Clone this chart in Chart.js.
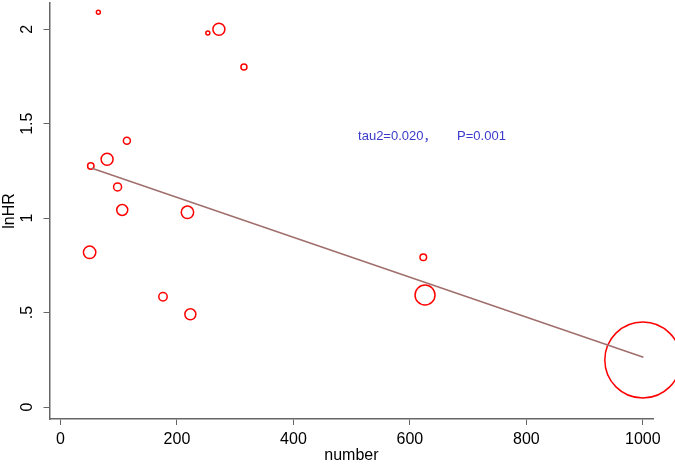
<!DOCTYPE html>
<html>
<head>
<meta charset="utf-8">
<script src="https://cdn.jsdelivr.net/npm/chart.js@4.4.1/dist/chart.umd.min.js"></script>
<style>
  body { margin: 0; background: #fff; }
  #wrap { width: 675px; height: 464px; }
</style>
</head>
<body>
<div id="wrap"><canvas id="metaChart"></canvas></div>
<script>
// study data
const studySize = [65, 253, 272, 315, 114, 52, 80, 98, 106, 218, 50, 176, 223, 623, 626, 1000];
const lnHR = [2.09, 1.98, 2.0, 1.8, 1.41, 1.276, 1.312, 1.165, 1.043, 1.031, 0.819, 0.584, 0.491, 0.793, 0.593, 0.249];
const bubbleRadius = [2, 2, 6, 3, 3.5, 3.2, 6, 4, 5.5, 6.2, 6.2, 4.2, 5.5, 3.3, 10, 38];

// fitted meta-regression line
const fitX = [54, 1001];
const fitY = [1.264, 0.263];

const xTicks = [0, 200, 400, 600, 800, 1000];
const yTicks = [0, 0.5, 1, 1.5, 2];
const yTickLabels = ['0', '.5', '1', '1.5', '2'];

const noteText = ['tau2=0.020，', 'P=0.001'];
const noteX = [511, 681];
const noteY = 1.435;

Chart.defaults.font.family = "'Liberation Sans', Arial, 'Noto Sans CJK SC', sans-serif";
Chart.defaults.color = '#000';

var ctx = document.getElementById('metaChart').getContext('2d');

var bubbles = studySize.map(function (n, i) {
  return { x: n, y: lnHR[i], r: bubbleRadius[i] };
});
var fitLine = fitX.map(function (x, i) {
  return { x: x, y: fitY[i] };
});

// draws the tau2 / P text at data coordinates
const notePlugin = {
  id: 'note',
  afterDatasetsDraw(chart) {
    const c = chart.ctx;
    const xs = chart.scales.x, ys = chart.scales.y;
    c.save();
    c.fillStyle = '#3a3acc';
    c.font = "13px 'Liberation Sans', Arial, 'Noto Sans CJK SC', sans-serif";
    c.textBaseline = 'middle';
    c.textAlign = 'left';
    noteText.forEach(function (t, i) {
      c.fillText(t, xs.getPixelForValue(noteX[i]), ys.getPixelForValue(noteY));
    });
    c.restore();
  }
};

const axisColor = '#666';

// keep the plot region fixed: no extra room for overhanging tick labels
function noPad(s) {
  s.paddingTop = 0;
  s.paddingBottom = 0;
  s.paddingLeft = 0;
  s.paddingRight = 0;
}

new Chart(ctx, {
  type: 'bubble',
  data: {
    datasets: [
      {
        type: 'line',
        data: fitLine,
        borderColor: '#a06e6c',
        borderWidth: 1.5,
        pointRadius: 0,
        fill: false,
        clip: false
      },
      {
        data: bubbles,
        backgroundColor: 'transparent',
        borderColor: '#ff0000',
        borderWidth: 1.5,
        clip: false
      }
    ]
  },
  options: {
    responsive: true,
    maintainAspectRatio: false,
    animation: false,
    layout: { autoPadding: false, padding: { top: 3, right: 21.7, left: 0, bottom: 0 } },
    plugins: {
      legend: { display: false },
      tooltip: { enabled: false }
    },
    scales: {
      x: {
        type: 'linear',
        min: -18.9,
        max: 1018,
        afterBuildTicks: function (s) { s.ticks = xTicks.map(function (v) { return { value: v }; }); },
        afterFit: function (s) { s.height = 45; noPad(s); },
        grid: { display: true, drawOnChartArea: false, drawTicks: true, tickLength: 6, color: axisColor, lineWidth: 1 },
        border: { display: true, color: axisColor, width: 1.5 },
        ticks: { font: { size: 16 }, padding: 5, maxRotation: 0, callback: function (v) { return String(v); } },
        title: { display: true, text: 'number', font: { size: 16, lineHeight: 1 }, padding: { top: 0, bottom: 0.5 } }
      },
      y: {
        type: 'linear',
        min: -0.0635,
        max: 2.139,
        afterBuildTicks: function (s) { s.ticks = yTicks.map(function (v) { return { value: v }; }); },
        afterFit: function (s) { s.width = 49.5; noPad(s); },
        grid: { display: true, drawOnChartArea: false, drawTicks: true, tickLength: 6, color: axisColor, lineWidth: 1 },
        border: { display: true, color: axisColor, width: 1.5 },
        ticks: {
          font: { size: 16 },
          padding: 5,
          minRotation: 90,
          maxRotation: 90,
          crossAlign: 'center',
          callback: function (v) {
            var i = yTicks.indexOf(v);
            return i >= 0 ? yTickLabels[i] : '';
          }
        },
        title: { display: true, text: 'lnHR', font: { size: 16, lineHeight: 1.2 }, padding: { top: 0, bottom: 0 } }
      }
    }
  },
  plugins: [notePlugin]
});
</script>
</body>
</html>
